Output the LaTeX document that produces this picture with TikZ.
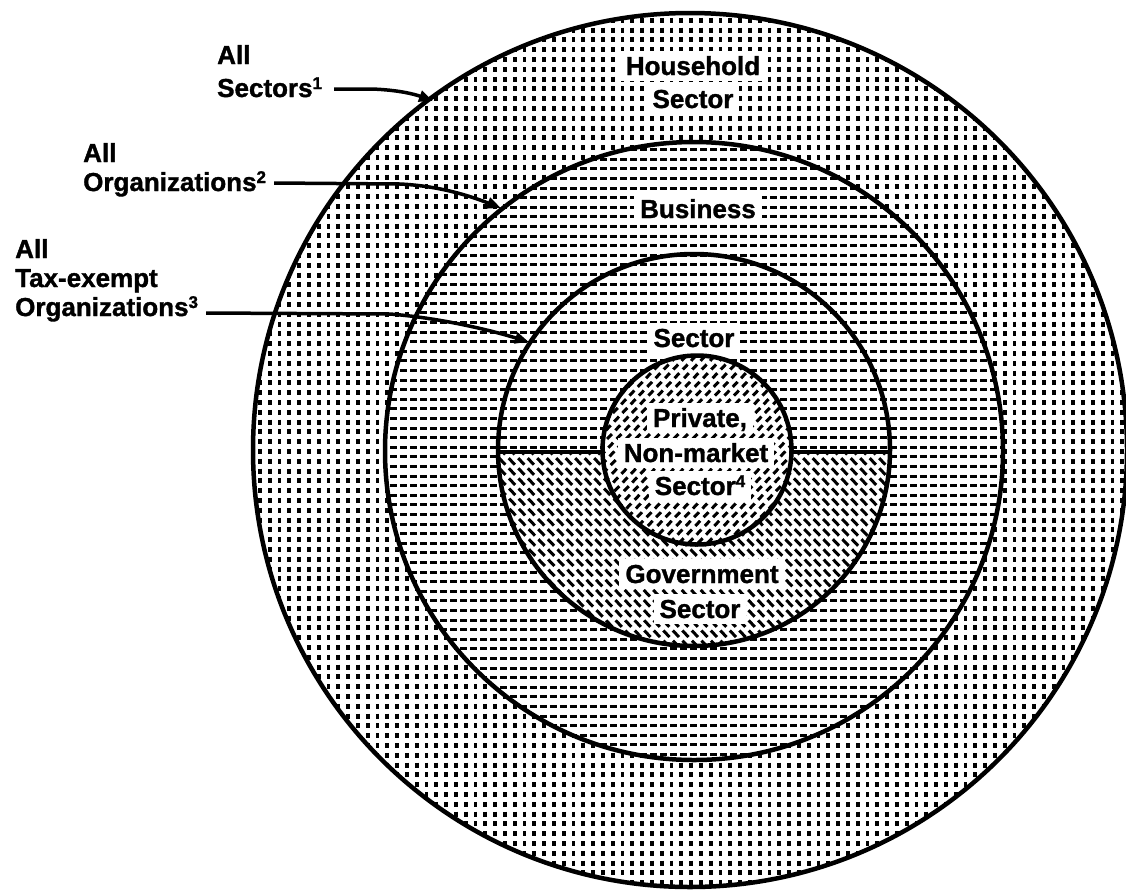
\documentclass[tikz,border=0pt]{standalone}
\usepackage{fontspec}
\setmainfont{Liberation Sans}[BoldFeatures={FakeBold=1.3}]
\usetikzlibrary{arrows.meta}
\newcommand\labfont{\fontsize{26}{30}\selectfont\bfseries}
\newcommand\supnum[1]{\raisebox{8pt}{\fontsize{17}{17}\selectfont\bfseries #1}}
\begin{document}
\begin{tikzpicture}[x=1pt,y=-1pt,
  hhdots/.style={line width=3.8pt,dash pattern=on 5pt off 4.8pt},
  bzdash/.style={line width=3pt,dash pattern=on 7pt off 3pt},
  gvdash/.style={line width=3pt,dash pattern=on 9pt off 5pt},
  npdash/.style={line width=3pt,dash pattern=on 7pt off 5pt},
  ring/.style={line width=4.5pt},
  lab/.style={font=\labfont,inner sep=0pt,anchor=base west},
  clab/.style={font=\labfont,fill=white,inner xsep=6pt,inner ysep=5pt,anchor=base,text height=19pt,text depth=1pt},
  pointer/.style={line width=3.5pt,-{Triangle[length=14pt,width=11pt]}}]
\useasboundingbox (0,0) rectangle (1126,892);
\coordinate (c0) at (690,450);
\coordinate (c1) at (694,451);
\coordinate (c2) at (694,450);
\coordinate (c3) at (697,450);
% household pattern
\begin{scope}
  \clip (c0) circle[radius=437pt];
  \foreach \i in {0,...,90} \draw[hhdots] (250+\i*9.8,8) -- ++(0,890);
\end{scope}
% business pattern
\begin{scope}
  \fill[white] (c1) circle[radius=309pt];
  \clip (c1) circle[radius=309pt];
  \foreach \i in {0,...,66} \draw[bzdash] (380,140+\i*9.6) -- ++(630,0);
\end{scope}
% government pattern
\begin{scope}
  \clip (c2) circle[radius=196pt];
  \clip (480,452) rectangle (910,660);
  \fill[white] (480,452) rectangle (910,660);
  \foreach \i in {0,...,70} \draw[gvdash] (290+\i*9.5,448) -- ++(200,210);
\end{scope}
% private non-market pattern
\begin{scope}
  \fill[white] (c3) circle[radius=94.5pt];
  \clip (c3) circle[radius=94.5pt];
  \foreach \i in {0,...,45} \draw[npdash] (395+\i*9.5,552) -- ++(200,-210);
\end{scope}
% outlines
\draw[ring] (c0) circle[radius=437pt];
\draw[ring] (c1) circle[radius=309pt];
\draw[ring] (c2) circle[radius=196pt];
\draw[ring] (c3) circle[radius=94.5pt];
\coordinate (sL) at (498,452);
\coordinate (iL) at (603,452);
\coordinate (iR) at (791,452);
\coordinate (sR) at (890,452);
\draw[line width=4pt] (sL) -- (iL);
\draw[line width=4pt] (iR) -- (sR);
% center labels
\node[clab] (hh1) at (693,75) {Household};
\node[clab] (hh2) at (693,108) {Sector};
\node[clab] (bz) at (698,218) {Business};
\node[clab] (sc) at (694,347) {Sector};
\node[clab] (np1) at (700,427) {Private,};
\node[clab] (np2) at (696,462) {Non-market};
\node[clab] (np3) at (700,495) {Sector\supnum{4}};
\node[clab] (gv1) at (702,583) {Government};
\node[clab] (gv2) at (700,618) {Sector};
% left labels
\node[lab] (a1) at (217,64) {All};
\node[lab] (s1) at (217,97) {Sectors\supnum{1}};
\node[lab] (a2) at (83,162) {All};
\node[lab] (o2) at (83,191) {Organizations\supnum{2}};
\node[lab] (a3) at (15,258) {All};
\node[lab] (t3) at (15,287) {Tax-exempt};
\node[lab] (o3) at (15,316) {Organizations\supnum{3}};
% pointers
\coordinate (tip1) at (433,101);
\coordinate (tip2) at (501,208);
\coordinate (tip3) at (529,342);
\draw[pointer] ([xshift=12pt,yshift=8pt]s1.base east) -- (372,89) .. controls (398,90) and (414,94) .. (tip1);
\draw[pointer] ([xshift=8pt,yshift=8pt]o2.base east) -- (400,184) .. controls (440,186) and (470,196) .. (tip2);
\draw[pointer] ([xshift=8pt,yshift=3pt]o3.base east) -- (390,314) .. controls (440,318) and (490,330) .. (tip3);
\end{tikzpicture}
\end{document}
